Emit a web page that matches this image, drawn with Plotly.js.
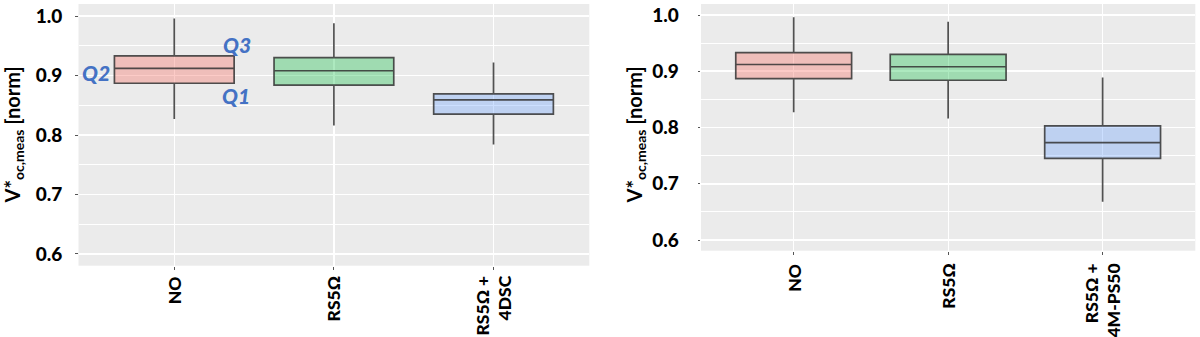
<!DOCTYPE html>
<html>
<head>
<meta charset="utf-8">
<script src="https://cdn.plot.ly/plotly-3.0.1.min.js"></script>
<style>html,body{margin:0;padding:0;background:#fff;}#chart{width:1200px;height:337px;}</style>
</head>
<body>
<div id="chart"></div>
<script>
// ---- data ----
const leftCategories  = ["NO", "RS5Ω", "RS5Ω +<br>4DSC"];
const rightCategories = ["NO", "RS5Ω", "RS5Ω +<br>4M-PS50"];

// [lower whisker, Q1, median, Q3, upper whisker]
const leftLower  = [0.827, 0.816, 0.784];
const leftQ1     = [0.887, 0.884, 0.835];
const leftMedian = [0.912, 0.908, 0.859];
const leftQ3     = [0.933, 0.930, 0.869];
const leftUpper  = [0.996, 0.988, 0.922];

const rightLower  = [0.827, 0.816, 0.668];
const rightQ1     = [0.887, 0.884, 0.745];
const rightMedian = [0.912, 0.908, 0.773];
const rightQ3     = [0.933, 0.930, 0.803];
const rightUpper  = [0.996, 0.988, 0.889];

const yTickVals = [0.6, 0.7, 0.8, 0.9, 1.0];
const quartileLabels = ["Q2", "Q3", "Q1"];

const fills = ["rgba(248,118,109,0.38)", "rgba(0,186,56,0.32)", "rgba(97,156,255,0.32)"];
const FONT = "Lato, 'Open Sans', sans-serif";

function boxTraces(cats, lo, q1, med, q3, hi, xa, ya) {
  return cats.map((c, i) => ({
    type: "box",
    x: [c],
    q1: [q1[i]], median: [med[i]], q3: [q3[i]],
    lowerfence: [lo[i]], upperfence: [hi[i]],
    xaxis: xa, yaxis: ya,
    width: 0.75,
    whiskerwidth: 0,
    fillcolor: fills[i],
    line: {color: "rgba(50,50,50,0.85)", width: 1.7},
    boxpoints: false,
    hoverinfo: "skip",
    showlegend: false
  }));
}

const data = [
  ...boxTraces(leftCategories, leftLower, leftQ1, leftMedian, leftQ3, leftUpper, "x", "y"),
  ...boxTraces(rightCategories, rightLower, rightQ1, rightMedian, rightQ3, rightUpper, "x2", "y2")
];

function xAxis(domain, anchor, cats) {
  return {
    domain: domain, anchor: anchor,
    type: "category", categoryorder: "array", categoryarray: cats,
    range: [-0.6, 2.6],
    showgrid: true, gridcolor: "#ffffff", gridwidth: 1.3,
    zeroline: false, showline: false,
    ticks: "outside", ticklen: 3, tickcolor: "#555", tickwidth: 1,
    showticklabels: false,
    fixedrange: true
  };
}
function yAxis(domain, anchor, range, standoff) {
  return {
    domain: domain, anchor: anchor,
    range: range,
    tickvals: yTickVals, tickformat: ".1f",
    showgrid: true, gridcolor: "#ffffff", gridwidth: 1.6,
    minor: {dtick: 0.05, tick0: 0.6, showgrid: true, gridcolor: "#ffffff", gridwidth: 1, ticks: ""},
    zeroline: false, showline: false,
    ticks: "outside", ticklen: 2.5, tickcolor: "#555", tickwidth: 1,
    ticklabelstandoff: standoff,
    tickfont: {family: FONT, size: 19, color: "#000", weight: 900},
    fixedrange: true
  };
}

const titleText = "V*<sub>oc,meas</sub> [norm]";
const annotations = [
  {xref: "paper", yref: "paper", x: 13.5/1200, y: 1 - 135/337, text: titleText, textangle: -90,
   showarrow: false, xanchor: "center", yanchor: "middle",
   font: {family: FONT, size: 20, color: "#000", weight: "bold"}},
  {xref: "paper", yref: "paper", x: 635/1200, y: 1 - 135.5/337, text: titleText, textangle: -90,
   showarrow: false, xanchor: "center", yanchor: "middle",
   font: {family: FONT, size: 20, color: "#000", weight: "bold"}}
];
// category labels under each panel (rotated, end-aligned toward the axis)
function catLabels(cats, xref, yTop) {
  cats.forEach(c => annotations.push({
    xref: xref, yref: "paper", x: c, y: yTop, text: c, textangle: -90,
    showarrow: false, xanchor: "center", yanchor: "top", align: "right",
    font: {family: FONT, size: 17.5, color: "#000", weight: 900}
  }));
}
catLabels(leftCategories, "x", 1 - 274/337);
catLabels(rightCategories, "x2", 1 - 262/337);

const qPos = [[96, 72], [236.5, 44.5], [236.3, 95]];
quartileLabels.forEach((q, i) => {
  annotations.push({
    xref: "paper", yref: "paper", x: qPos[i][0]/1200, y: 1 - qPos[i][1]/337,
    text: "<i>" + q + "</i>", showarrow: false, xanchor: "center", yanchor: "middle",
    font: {family: FONT, size: 21, color: "#4472C4", weight: 900}
  });
});

const layout = {
  width: 1200, height: 337,
  margin: {l: 0, r: 0, t: 0, b: 0},
  paper_bgcolor: "#ffffff",
  plot_bgcolor: "#ebebeb",
  boxmode: "overlay",
  showlegend: false,
  xaxis: xAxis([78.5/1200, 589.3/1200], "y", leftCategories),
  yaxis: yAxis([1 - 265.7/337, 1 - 4/337], "x", [0.5803, 1.0202], 9),
  xaxis2: xAxis([701/1200, 1195.3/1200], "y2", rightCategories),
  yaxis2: yAxis([1 - 250.7/337, 1 - 4/337], "x2", [0.581, 1.0196], 15),
  annotations: annotations
};

Plotly.newPlot("chart", data, layout, {displayModeBar: false, staticPlot: true});
</script>
</body>
</html>
